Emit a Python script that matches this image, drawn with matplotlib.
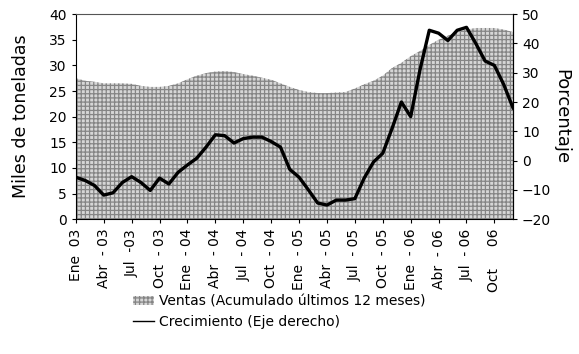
import matplotlib
matplotlib.use('Agg')
import matplotlib.pyplot as plt
from matplotlib.patches import Patch
from matplotlib.lines import Line2D
import numpy as np

# monthly series, Ene-03 .. Dic-06
ventas = [27.5, 27.0, 26.8, 26.5, 26.5, 26.5, 26.4, 26.0, 25.8, 25.8, 26.0, 26.5,
          27.3, 28.0, 28.5, 28.8, 28.9, 28.7, 28.3, 28.0, 27.6, 27.2, 26.5, 25.8,
          25.2, 24.8, 24.6, 24.6, 24.7, 24.8, 25.5, 26.3, 27.0, 28.0, 29.5, 30.5,
          31.8, 32.8, 34.0, 35.0, 35.8, 36.5, 37.0, 37.3, 37.3, 37.3, 37.0, 36.5]
crecimiento = [-5.7, -6.8, -8.5, -11.8, -11.0, -7.5, -5.5, -7.5, -10.2, -6.0, -8.0, -4.0,
               -1.5, 0.8, 4.6, 8.8, 8.5, 6.0, 7.5, 8.0, 8.0, 6.5, 4.6, -3.0,
               -5.7, -10.0, -14.5, -15.2, -13.5, -13.5, -13.0, -6.0, -0.5, 2.5, 11.0, 20.0,
               15.0, 31.0, 44.5, 43.5, 41.0, 44.5, 45.5, 40.0, 34.0, 32.5, 26.0, 18.0]
etiquetas = ['Ene  03', 'Abr  - 03', 'Jul  -03', 'Oct  - 03',
             'Ene  - 04', 'Abr  - 04', 'Jul  - 04', 'Oct  - 04',
             'Ene  - 05', 'Abr  - 05', 'Jul  - 05', 'Oct  - 05',
             'Ene  - 06', 'Abr  - 06', 'Jul  - 06', 'Oct     06']

plt.rcParams['hatch.linewidth'] = 0.9
plt.rcParams['hatch.color'] = '#858585'

x = np.arange(len(ventas))
fig = plt.figure(figsize=(5.79, 3.54), dpi=100)
ax = fig.add_axes([0.131, 0.381, 0.755, 0.579])

ax.fill_between(x, 0, ventas, facecolor='#d6d6d6', hatch='++++', edgecolor='#858585', linewidth=0)
ax.set_xlim(0, len(ventas) - 1)
ax.set_ylim(0, 40)
ax.set_yticks(range(0, 41, 5))
ax.set_xticks(x[::3])
ax.set_xticklabels(etiquetas, rotation=90, fontsize=10)
ax.tick_params(axis='y', labelsize=10, length=3, width=0.8)
ax.tick_params(axis='x', length=3, width=0.8, pad=4)
ax.set_ylabel('Miles de toneladas', fontsize=12.5, labelpad=14)
ax.spines['top'].set_color('#555555')
ax.spines['top'].set_linewidth(0.8)

ax2 = ax.twinx()
ax2.plot(x, crecimiento, color='black', linewidth=2.4)
ax2.set_ylim(-20, 50)
ax2.set_yticks(range(-20, 51, 10))
ax2.tick_params(axis='y', labelsize=10, length=3, width=0.8)
ax2.set_ylabel('Porcentaje', fontsize=13, rotation=-90, labelpad=14)
for sp in ax2.spines.values():
    sp.set_visible(False)
ax2.spines['right'].set_visible(True)
ax2.spines['right'].set_linewidth(0.8)

handles = [Patch(facecolor='#d6d6d6', hatch='++++', edgecolor='#858585', linewidth=0),
           Line2D([0], [0], color='black', linewidth=1)]
fig.legend(handles, ['Ventas (Acumulado últimos 12 meses)', 'Crecimiento (Eje derecho)'],
           loc='upper left', bbox_to_anchor=(0.22, 0.184), frameon=False,
           fontsize=10, handlelength=1.5, handletextpad=0.4, labelspacing=0.45,
           borderaxespad=0)

fig.savefig('out.png', dpi=100)
